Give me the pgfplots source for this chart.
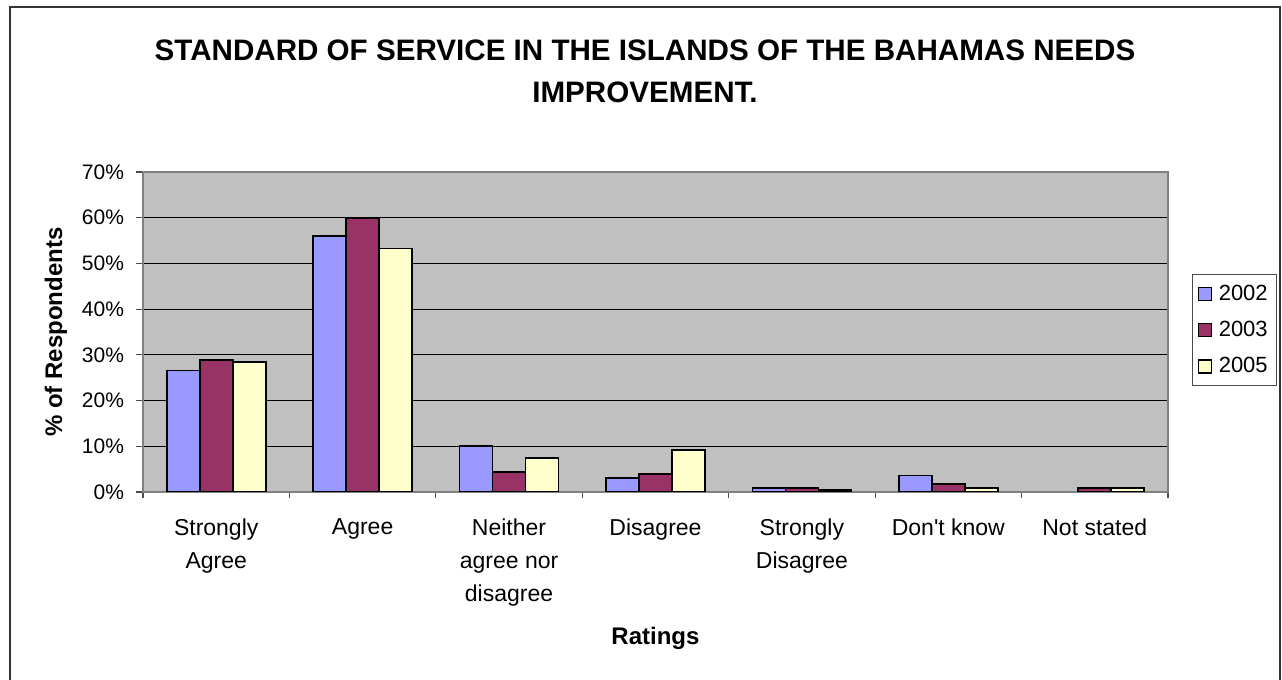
\documentclass[border=0pt]{standalone}
\usepackage{pgfplots}
\pgfplotsset{compat=1.18}
\usepackage{fontspec}
\setmainfont{Liberation Sans}
\definecolor{c02}{HTML}{9999FF}
\definecolor{c03}{HTML}{993366}
\definecolor{c05}{HTML}{FFFFCC}
\definecolor{plotbg}{HTML}{C0C0C0}
\begin{document}
\begin{tikzpicture}[x=1pt,y=1pt]
\useasboundingbox (0,0) rectangle (641,340);
\draw[black!80, line width=0.6pt] (5,-5) rectangle (640,336.5);
\node[font=\bfseries\fontsize{14.8}{21}\selectfont, align=center] at (322.5,304.5) {STANDARD OF SERVICE IN THE ISLANDS OF THE BAHAMAS NEEDS\\IMPROVEMENT.};
\begin{axis}[at={(71.5pt,94pt)}, anchor=south west, scale only axis,
  width=512.5pt, height=160pt,
  ymin=0, ymax=70, ytick={0,10,...,70},
  /pgf/number format/assume math mode=true,
  yticklabel={\pgfmathprintnumber{\tick}\%},
  yticklabel style={font=\fontsize{10.5}{12}\selectfont, xshift=-2.5pt},
  xmin=-0.5, xmax=6.5, xtick={0,...,6},
  xticklabels={{Strongly\\Agree},{Agree},{Neither\\agree nor\\disagree},{Disagree},{Strongly\\Disagree},{Don\textquotesingle t know},{Not stated}},
  xticklabel style={font=\fontsize{11.5}{16.5}\selectfont, align=center, anchor=north, yshift=-6.5pt},
  major x tick style={draw=none},
  minor xtick={-0.5,0.5,...,6.5},
  tick align=outside, xtick pos=bottom, ytick pos=left,
  major tick length=3.5pt, minor tick length=3pt,
  tick style={black!70, line width=0.6pt},
  axis line style={black!50, line width=0.7pt},
  axis background/.style={fill=plotbg},
  ymajorgrids, grid style={black, line width=0.5pt},
  ylabel={\% of Respondents},
  ylabel style={font=\bfseries\fontsize{12}{14}\selectfont, at={(axis description cs:-0.085,0.5)}, anchor=center},
  xlabel={Ratings},
  xlabel style={font=\bfseries\fontsize{12}{14}\selectfont, at={(axis description cs:0.5,-0.456)}, anchor=center},
  ybar, bar width=0.2254,
  every axis plot/.append style={draw=black, line width=0.8pt},
  legend style={at={(axis description cs:1.0234,0.681)}, anchor=north west,
    draw=black!70, line width=0.6pt, fill=white, font=\fontsize{11}{13}\selectfont,
    inner xsep=2.5pt, inner ysep=3pt, row sep=5pt,
    /tikz/every odd column/.append style={column sep=1.5pt}},
  legend image code/.code={\draw[#1, line width=0.6pt] (1pt,-3.25pt) rectangle (7.5pt,3.25pt);},
  legend cell align=left,
]
\addplot[fill=c02, bar shift=-0.2254] coordinates {(0,26.6) (1,56.0) (2,10.1) (3,3.1) (4,0.9) (5,3.6)};
\addplot[fill=c03, bar shift=0] coordinates {(0,28.9) (1,59.9) (2,4.4) (3,4.0) (4,0.9) (5,1.8) (6,0.9)};
\addplot[fill=c05, bar shift=0.2254] coordinates {(0,28.4) (1,53.3) (2,7.4) (3,9.2) (4,0.4) (5,0.9) (6,0.9)};
\legend{2002,2003,2005}
\end{axis}
\end{tikzpicture}
\end{document}
